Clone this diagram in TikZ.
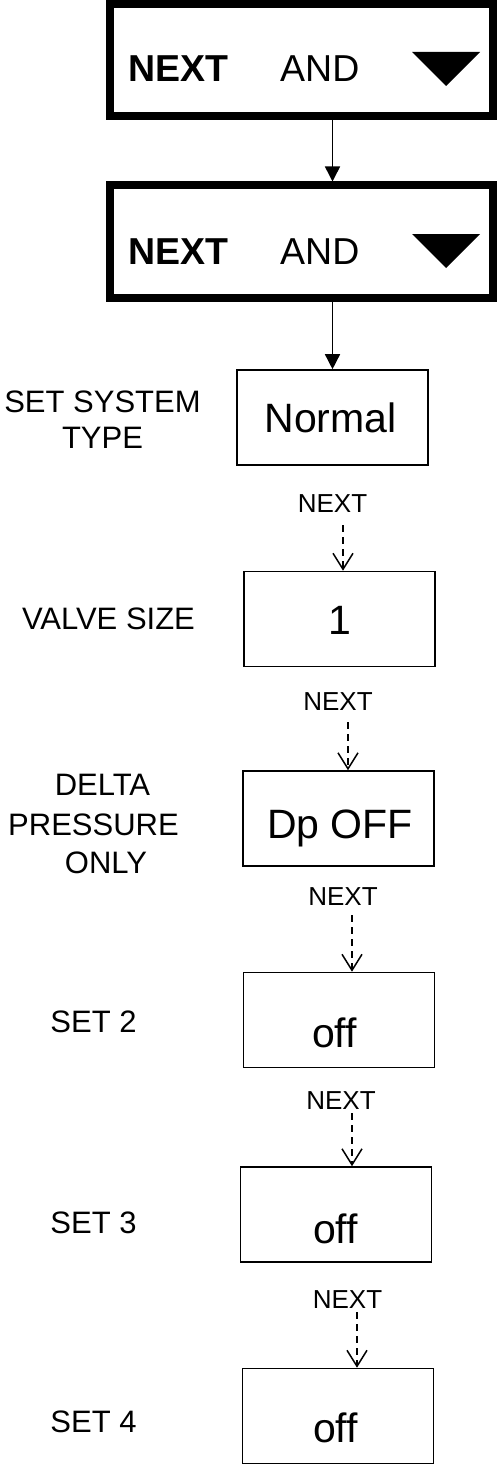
\documentclass[tikz,border=0pt]{standalone}
\usepackage{fontspec}
\setmainfont{Liberation Sans}
\usetikzlibrary{arrows.meta}
\begin{document}
\begin{tikzpicture}[x=1pt,y=-1pt,
  thickbox/.style={draw, line width=8pt, minimum width=383pt, minimum height=112pt, inner sep=0pt},
  valbox/.style={draw, line width=1.6pt, minimum width=191pt, minimum height=95pt, inner sep=0pt},
  valtext/.style={anchor=base, inner sep=0pt, font=\fontsize{41}{48}\selectfont},
  lbl/.style={anchor=base, inner sep=0pt, font=\fontsize{31}{37}\selectfont},
  nexttext/.style={anchor=base, inner sep=0pt, font=\fontsize{26}{30}\selectfont},
  bigtext/.style={anchor=base west, inner sep=0pt, font=\fontsize{37.5}{44}\selectfont},
  solidarrow/.style={line width=1.5pt, -{Triangle[length=15pt,width=15pt]}},
  nextarrow/.style={line width=1.5pt, dash pattern=on 7pt off 5pt, -{Straight Barb[length=16pt,width=20pt]}},
]
\useasboundingbox (0,0) rectangle (497,1466);

% thick boxes
\node[thickbox] (b1) at (301.5,60) {};
\node[bigtext] (b1next) at (128,82) {\bfseries NEXT};
\node[bigtext] (b1and) at (280,82) {AND};
\fill (412,52) -- (480,52) -- (446,86) -- cycle;

\node[thickbox] (b2) at (301.5,241.5) {};
\node[bigtext] (b2next) at (128,264) {\bfseries NEXT};
\node[bigtext] (b2and) at (280,264) {AND};
\fill (412,234) -- (480,234) -- (446,268) -- cycle;

% value boxes
\node[valbox] (normal) at (332.5,417.5) {};
\node[valtext] (normalt) at (330.5,432) {Normal};
\node[valbox] (one) at (339.5,619) {};
\node[valtext] (onet) at (339.5,634) {1};
\node[valbox] (dp) at (338.5,818.5) {};
\node[valtext] (dpt) at (340,838) {Dp OFF};
\node[valbox] (s2) at (339,1020) {};
\node[valtext] (s2t) at (334.5,1047) {off};
\node[valbox] (s3) at (336,1214.5) {};
\node[valtext] (s3t) at (335.5,1243) {off};
\node[valbox] (s4) at (338,1416) {};
\node[valtext] (s4t) at (335.5,1442) {off};

% left labels
\node[lbl] (l1a) at (102.5,412) {SET SYSTEM};
\node[lbl] (l1b) at (102.5,448) {TYPE};
\node[lbl] (l2) at (108.5,629) {VALVE SIZE};
\node[lbl] (l3a) at (102.5,795) {DELTA};
\node[lbl] (l3b) at (93.5,835) {PRESSURE};
\node[lbl] (l3c) at (106,873) {ONLY};
\node[lbl] (l4) at (93.5,1032) {SET 2};
\node[lbl] (l5) at (93.5,1233) {SET 3};
\node[lbl] (l6) at (93.5,1432) {SET 4};

% NEXT labels
\node[nexttext] (n1) at (332.5,512) {NEXT};
\node[nexttext] (n2) at (338,710) {NEXT};
\node[nexttext] (n3) at (343,905) {NEXT};
\node[nexttext] (n4) at (341,1109) {NEXT};
\node[nexttext] (n5) at (347.5,1308) {NEXT};

% solid arrows
\draw[solidarrow] (b1.south -| normal.north) -- (b2.north -| normal.north);
\draw[solidarrow] (b2.south -| normal.north) -- (normal.north);

% dashed arrows
\coordinate (a1) at (343,525);
\coordinate (a2) at (348,722);
\coordinate (a3) at (352,915);
\coordinate (a4) at (352,1113);
\coordinate (a5) at (357,1312);
\draw[nextarrow] (a1) -- (one.north -| a1);
\draw[nextarrow] (a2) -- (dp.north -| a2);
\draw[nextarrow] (a3) -- (s2.north -| a3);
\draw[nextarrow] (a4) -- (s3.north -| a4);
\draw[nextarrow] (a5) -- (s4.north -| a5);
\end{tikzpicture}
\end{document}
